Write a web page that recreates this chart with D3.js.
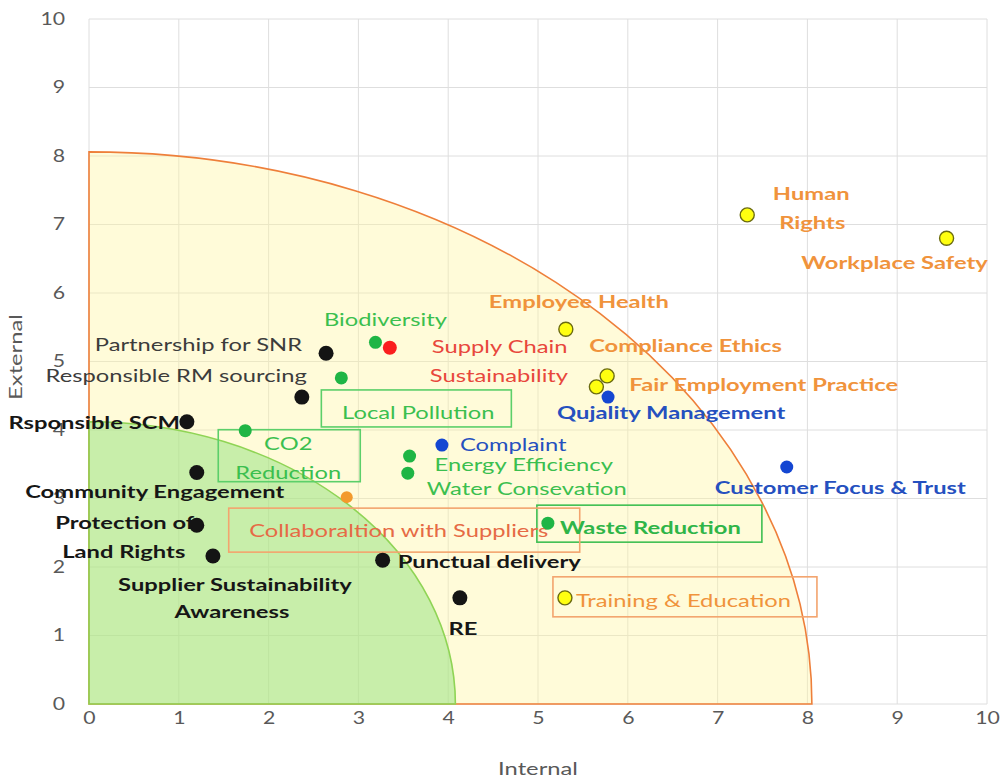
<!DOCTYPE html>
<html>
<head>
<meta charset="utf-8">
<script src="https://cdn.jsdelivr.net/npm/d3@7/dist/d3.min.js"></script>
<style>
  html, body { margin: 0; padding: 0; background: #ffffff; }
  svg { display: block; }
  text { font-family: Lato, "Open Sans", sans-serif; }
</style>
</head>
<body>
<svg id="chart" width="1000" height="780"></svg>
<script>
// ---- data -------------------------------------------------------------
const tickValues = [0, 1, 2, 3, 4, 5, 6, 7, 8, 9, 10];
const axisTitles = { x: "Internal", y: "External" };

// priority zones: quarter ellipses centred on the origin (internal, external radii)
const zoneOuter = [8.05, 8.06];
const zoneInner = [4.08, 4.12];

// topics: name, internal score, external score, group
const topicNames = [
  "Partnership for SNR", "Responsible RM sourcing", "Rsponsible SCM", "Community Engagement",
  "Protection of Land Rights", "Supplier Sustainability Awareness", "Punctual delivery", "RE",
  "Biodiversity", "Local Pollution", "CO2 Reduction", "Energy Efficiency", "Water Consevation",
  "Waste Reduction", "Supply Chain Sustainability", "Collaboraltion with Suppliers",
  "Employee Health", "Compliance Ethics", "Fair Employment Practice", "Human Rights",
  "Workplace Safety", "Training & Education", "Qujality Management", "Complaint",
  "Customer Focus & Trust"
];
const internalScores = [
  2.64, 2.37, 1.09, 1.20, 1.20, 1.38, 3.27, 4.13,
  3.19, 2.81, 1.74, 3.57, 3.55, 5.11, 3.35, 2.87,
  5.31, 5.77, 5.65, 7.33, 9.55, 5.30, 5.78, 3.93, 7.77
];
const externalScores = [
  5.12, 4.48, 4.12, 3.38, 2.61, 2.16, 2.10, 1.55,
  5.28, 4.76, 3.99, 3.62, 3.37, 2.64, 5.20, 3.02,
  5.47, 4.79, 4.63, 7.14, 6.80, 1.55, 4.48, 3.78, 3.46
];
const topicGroups = [
  "community", "community", "community", "community", "community", "community", "community", "community",
  "environment", "environment", "environment", "environment", "environment", "environment", "supply", "partner",
  "people", "people", "people", "people", "people", "people", "customer", "customer", "customer"
];

// ---- styles -----------------------------------------------------------
const groupStyle = {
  community:   { fill: "#141414", stroke: "none",    r: 7.5 },
  environment: { fill: "#1fb545", stroke: "none",    r: 6.5 },
  supply:      { fill: "#fa1e1e", stroke: "none",    r: 7 },
  partner:     { fill: "#f39a2c", stroke: "none",    r: 6 },
  people:      { fill: "#ffff10", stroke: "#6b6b10", r: 7 },
  customer:    { fill: "#1446d2", stroke: "none",    r: 6.5 }
};
const C = {
  black: "#161616", gray: "#3c3c3c", green: "#3bbf4f", red: "#e8473c",
  orange: "#f0933c", blue: "#2550bf", collab: "#e66a45"
};
const labelFont = 18;      // px
const labelStretch = 1.32; // horizontal stretch of label lettering
const axisStretch = 1.25;

// label layout, relative to the topic's point (pixels)
const labelLayout = [
  { i: 0,  lines: [["Partnership for SNR", -24, -10]], anchor: "end", color: C.gray, w: 400 },
  { i: 1,  lines: [["Responsible RM sourcing", 5, -22]], anchor: "end", color: C.gray, w: 400 },
  { i: 2,  lines: [["Rsponsible SCM", -7, 0]], anchor: "end", color: C.black, w: 700 },
  { i: 3,  lines: [["Community Engagement", -42, 18]], anchor: "middle", color: C.black, w: 700 },
  { i: 4,  lines: [["Protection of", -72, -3], ["Land Rights", -73, 26]], anchor: "middle", color: C.black, w: 700 },
  { i: 5,  lines: [["Supplier Sustainability", 22, 28], ["Awareness", 19, 55]], anchor: "middle", color: C.black, w: 700 },
  { i: 6,  lines: [["Punctual delivery", 15, 1]], anchor: "start", color: C.black, w: 700 },
  { i: 7,  lines: [["RE", 3, 30]], anchor: "middle", color: C.black, w: 700 },
  { i: 8,  lines: [["Biodiversity", 10, -24]], anchor: "middle", color: C.green, w: 400 },
  { i: 9,  lines: [["Local Pollution", 77, 34]], anchor: "middle", color: C.green, w: 400, box: [-20, 12, 190, 37], boxColor: "#5ccf6a" },
  { i: 10, lines: [["CO2", 43, 12], ["Reduction", 43, 41]], anchor: "middle", color: C.green, w: 400, box: [-27, -1, 142, 52], boxColor: "#5ccf6a" },
  { i: 11, lines: [["Energy Efficiency", 25, 8]], anchor: "start", color: C.green, w: 400 },
  { i: 12, lines: [["Water Consevation", 19, 15]], anchor: "start", color: C.green, w: 400 },
  { i: 13, lines: [["Waste Reduction", 12, 4]], anchor: "start", color: "#2fb548", w: 700, box: [-11, -18, 225, 37], boxColor: "#3fbf52" },
  { i: 14, lines: [["Supply Chain", 42, -2], ["Sustainability", 40, 27]], anchor: "start", color: C.red, w: 400 },
  { i: 15, lines: [["Collaboraltion with Suppliers", 52, 33]], anchor: "middle", color: C.collab, w: 400, box: [-118, 11, 351, 44], boxColor: "#f3a46e" },
  { i: 16, lines: [["Employee Health", 13, -29]], anchor: "middle", color: C.orange, w: 700 },
  { i: 17, lines: [["Compliance Ethics", -18, -31]], anchor: "start", color: C.orange, w: 700 },
  { i: 18, lines: [["Fair Employment Practice", 33, -3]], anchor: "start", color: C.orange, w: 700 },
  { i: 19, lines: [["Human", 64, -22], ["Rights", 65, 7]], anchor: "middle", color: C.orange, w: 700 },
  { i: 20, lines: [["Workplace Safety", -52, 24]], anchor: "middle", color: C.orange, w: 700 },
  { i: 21, lines: [["Training & Education", 11, 2]], anchor: "start", color: C.orange, w: 400, box: [-12, -21, 264, 40], boxColor: "#f3a46e" },
  { i: 22, lines: [["Qujality Management", -51, 15]], anchor: "start", color: C.blue, w: 700 },
  { i: 23, lines: [["Complaint", 18, -1]], anchor: "start", color: C.blue, w: 400 },
  { i: 24, lines: [["Customer Focus & Trust", -72, 20]], anchor: "start", color: C.blue, w: 700 }
];

// ---- chart ------------------------------------------------------------
const svg = d3.select("#chart");
const x = d3.scaleLinear().domain([0, 10]).range([89, 987]);
const y = d3.scaleLinear().domain([0, 10]).range([704, 19]);

const topics = topicNames.map((name, k) => ({
  name, ix: internalScores[k], ex: externalScores[k], group: topicGroups[k]
}));

// gridlines
const grid = svg.append("g");
grid.selectAll("line.v").data(tickValues).join("line")
  .attr("x1", d => x(d)).attr("x2", d => x(d))
  .attr("y1", y(0)).attr("y2", y(10))
  .attr("stroke", "#dedede").attr("stroke-width", 1);
grid.selectAll("line.h").data(tickValues).join("line")
  .attr("x1", x(0)).attr("x2", x(10))
  .attr("y1", d => y(d)).attr("y2", d => y(d))
  .attr("stroke", "#dedede").attr("stroke-width", 1);

// quarter-ellipse zone
function zonePath([rx, ry]) {
  const px = x(rx) - x(0), py = y(0) - y(ry);
  return `M${x(0)},${y(0)} L${x(rx)},${y(0)} A${px},${py} 0 0 0 ${x(0)},${y(ry)} Z`;
}
svg.append("path").attr("d", zonePath(zoneOuter))
  .attr("fill", "#fff4a0").attr("fill-opacity", 0.4)
  .attr("stroke", "#ee7f3a").attr("stroke-width", 1.6);
svg.append("path").attr("d", zonePath(zoneInner))
  .attr("fill", "#92e27c").attr("fill-opacity", 0.5)
  .attr("stroke", "#8fd455").attr("stroke-width", 1.6);

// axes
const xAxis = d3.axisBottom(x).tickValues(tickValues).tickSize(0).tickPadding(8);
const yAxis = d3.axisLeft(y).tickValues(tickValues).tickSize(0).tickPadding(24);
const gx = svg.append("g").attr("transform", `translate(0,${y(0)})`).call(xAxis);
const gy = svg.append("g").attr("transform", `translate(${x(0)},0)`).call(yAxis);
[gx, gy].forEach(g => {
  g.select(".domain").remove();
  g.selectAll("text")
    .attr("fill", "#595959").style("font-size", "17px")
    .style("font-family", "Lato, sans-serif")
    .each(function () {
      const t = d3.select(this);
      const x0 = +t.attr("x") || 0;
      t.attr("x", x0 / axisStretch).attr("transform", `scale(${axisStretch},1)`);
    });
});
svg.append("text").attr("transform", `translate(${(x(0) + x(10)) / 2},768) scale(${labelStretch},1)`)
  .attr("text-anchor", "middle").attr("dominant-baseline", "central")
  .attr("fill", "#595959").style("font-size", "18px")
  .text(axisTitles.x);
svg.append("text").attr("transform", `translate(15,357) rotate(-90) scale(${labelStretch},1)`)
  .attr("text-anchor", "middle").attr("dominant-baseline", "central")
  .attr("fill", "#595959").style("font-size", "18px")
  .text(axisTitles.y);

// label boxes
const labels = svg.append("g");
labelLayout.filter(l => l.box).forEach(l => {
  const t = topics[l.i];
  const [bx, by, bw, bh] = l.box;
  labels.append("rect")
    .attr("x", x(t.ix) + bx).attr("y", y(t.ex) + by)
    .attr("width", bw).attr("height", bh)
    .attr("fill", "none").attr("stroke", l.boxColor).attr("stroke-width", 1.6);
});

// points
svg.append("g").selectAll("circle").data(topics).join("circle")
  .attr("cx", d => x(d.ix)).attr("cy", d => y(d.ex))
  .attr("r", d => groupStyle[d.group].r)
  .attr("fill", d => groupStyle[d.group].fill)
  .attr("stroke", d => groupStyle[d.group].stroke)
  .attr("stroke-width", 1.4);

// label text
labelLayout.forEach(l => {
  const t = topics[l.i];
  l.lines.forEach(([txt, dx, dy]) => {
    labels.append("text")
      .attr("transform", `translate(${x(t.ix) + dx},${y(t.ex) + dy}) scale(${labelStretch},1)`)
      .attr("text-anchor", l.anchor).attr("dominant-baseline", "central")
      .attr("fill", l.color).style("font-size", labelFont + "px").style("font-weight", l.w)
      .text(txt);
  });
});
</script>
</body>
</html>
